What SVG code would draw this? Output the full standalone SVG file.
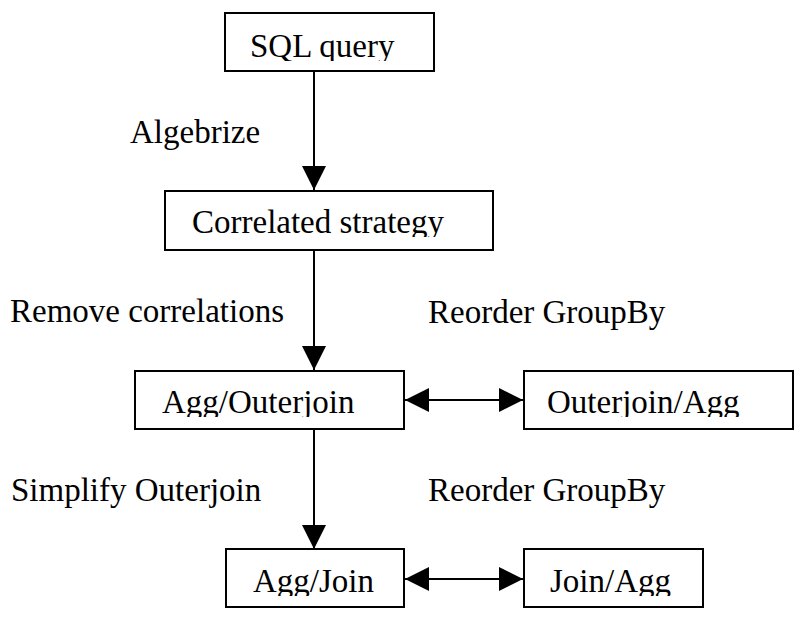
<svg xmlns="http://www.w3.org/2000/svg" width="804" height="630" viewBox="0 0 804 630">
<style>
  .box { fill: #ffffff; stroke: #000000; stroke-width: 2; }
  .t { font-size: 33px; fill: #000000; }
  .edge { stroke: #000000; stroke-width: 2; fill: none; }
</style>
<defs>
  <marker id="ah" viewBox="0 0 24 24" markerUnits="userSpaceOnUse" markerWidth="24" markerHeight="24" refX="24" refY="12" orient="auto-start-reverse">
    <path d="M0,0 L24,12 L0,24 Z" fill="#000000"/>
  </marker>
  <clipPath id="c1"><rect x="225" y="13" width="209" height="48"/></clipPath>
  <clipPath id="c2"><rect x="165" y="191" width="328" height="46"/></clipPath>
  <clipPath id="c3"><rect x="135" y="371" width="269" height="46"/></clipPath>
  <clipPath id="c4"><rect x="524" y="371" width="269" height="46"/></clipPath>
  <clipPath id="c5"><rect x="226" y="549" width="178" height="47"/></clipPath>
  <clipPath id="c6"><rect x="524" y="549" width="179" height="47"/></clipPath>
</defs>
<rect width="804" height="630" fill="#ffffff"/>

<g id="connectors">
  <line class="edge" x1="314" y1="71" x2="314" y2="190" marker-end="url(#ah)"/>
  <line class="edge" x1="314" y1="250" x2="314" y2="370" marker-end="url(#ah)"/>
  <line class="edge" x1="314" y1="430" x2="314" y2="549" marker-end="url(#ah)"/>
  <line class="edge" x1="405" y1="400" x2="523" y2="400" marker-start="url(#ah)" marker-end="url(#ah)"/>
  <line class="edge" x1="405" y1="579" x2="523" y2="579" marker-start="url(#ah)" marker-end="url(#ah)"/>
</g>

<g id="labels" font-family="Liberation Serif, serif">
  <text class="t" x="130" y="143">Algebrize</text>
  <text class="t" x="10" y="322">Remove correlations</text>
  <text class="t" x="428" y="323">Reorder GroupBy</text>
  <text class="t" x="11" y="501">Simplify Outerjoin</text>
  <text class="t" x="428" y="501">Reorder GroupBy</text>
</g>

<g id="node-sql" font-family="Liberation Serif, serif">
  <rect class="box" x="225" y="13" width="209" height="58"/>
  <text class="t" x="250" y="57" clip-path="url(#c1)">SQL query</text>
</g>
<g id="node-correlated" font-family="Liberation Serif, serif">
  <rect class="box" x="165" y="191" width="328" height="59"/>
  <text class="t" x="192" y="233" clip-path="url(#c2)">Correlated strategy</text>
</g>
<g id="node-agg-outerjoin" font-family="Liberation Serif, serif">
  <rect class="box" x="135" y="371" width="269" height="58"/>
  <text class="t" x="162" y="413" clip-path="url(#c3)">Agg/Outerjoin</text>
</g>
<g id="node-outerjoin-agg" font-family="Liberation Serif, serif">
  <rect class="box" x="524" y="371" width="269" height="58"/>
  <text class="t" x="547" y="413" clip-path="url(#c4)">Outerjoin/Agg</text>
</g>
<g id="node-agg-join" font-family="Liberation Serif, serif">
  <rect class="box" x="226" y="549" width="178" height="58"/>
  <text class="t" x="253" y="592" clip-path="url(#c5)">Agg/Join</text>
</g>
<g id="node-join-agg" font-family="Liberation Serif, serif">
  <rect class="box" x="524" y="549" width="179" height="58"/>
  <text class="t" x="550" y="592" clip-path="url(#c6)">Join/Agg</text>
</g>
</svg>
